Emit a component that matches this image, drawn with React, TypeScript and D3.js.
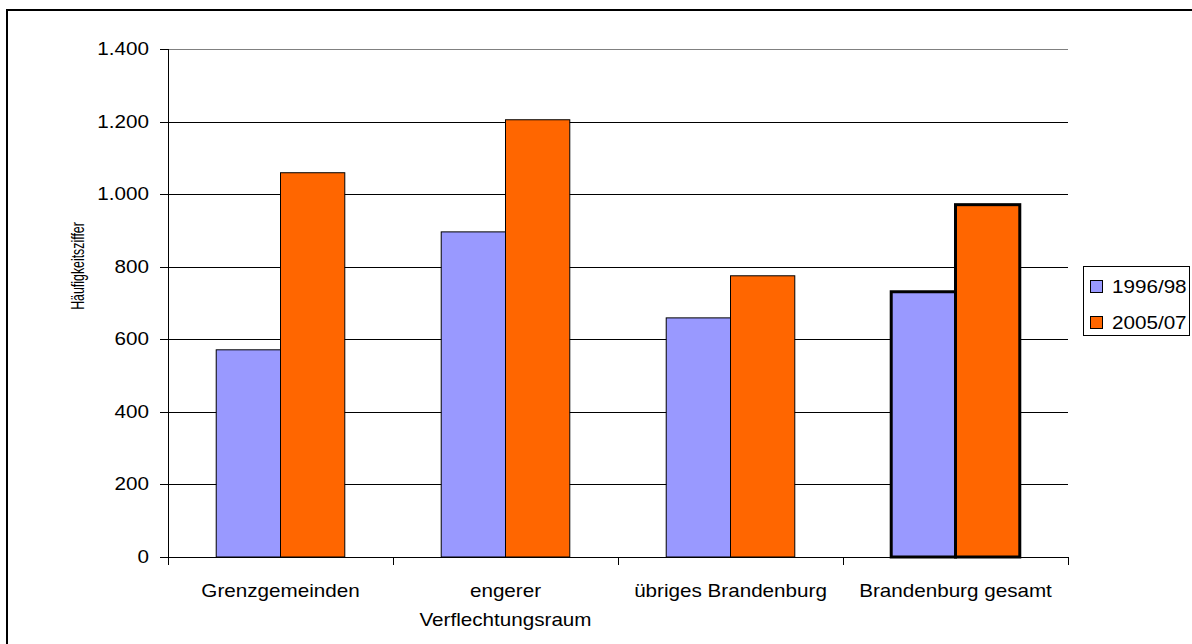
import React from "react";
import * as d3 from "d3";

const categories: string[][] = [
  ["Grenzgemeinden"],
  ["engerer", "Verflechtungsraum"],
  ["übriges Brandenburg"],
  ["Brandenburg gesamt"],
];
const seriesNames = ["1996/98", "2005/07"];
const values1996 = [571, 896, 659, 731];
const values2005 = [1059, 1205, 775, 971];
const yTicks = [0, 200, 400, 600, 800, 1000, 1200, 1400];
const highlighted = [false, false, false, true];
const colors = ["#9999FF", "#FF6600"];
const yTitle = "Häufigkeitsziffer";

const FONT = "'Liberation Sans', Arial, sans-serif";
const FS = 17.5;
const SX = 1.18;

const fmt = d3.formatLocale({ decimal: ",", thousands: ".", grouping: [3], currency: ["", "€"] }).format(",d");

export default function App() {
  const W = 1192, H = 644;
  const left = 168, right = 1068, top = 49, bottom = 557;
  const keys = categories.map((c) => c.join(" "));
  const x = d3.scaleBand<string>().domain(keys).range([left, right]).paddingInner(0).paddingOuter(0);
  const xs = d3.scaleBand<string>().domain(seriesNames).range([0, x.bandwidth()]).paddingInner(0).paddingOuter(0.75);
  const y = d3.scaleLinear().domain([0, 1400]).range([bottom, top]);
  const series = [values1996, values2005];

  const txt = (s: string, tx: number, ty: number, anchor: string, key?: any) => (
    <text key={key} transform={`translate(${tx},${ty}) scale(${SX},1)`} textAnchor={anchor as any} fontFamily={FONT} fontSize={FS} fill="#000">
      {s}
    </text>
  );

  return (
    <svg width={W} height={H} style={{ position: "absolute", left: 0, top: 0, background: "#fff" }}>
      <rect x={0} y={0} width={W} height={H} fill="#fff" />
      {/* outer chart border */}
      <rect x={7} y={10} width={1300} height={800} fill="none" stroke="#000" strokeWidth={2} />
      {/* gridlines */}
      {yTicks.map((t) => (
        <line key={t} x1={left} x2={right} y1={Math.round(y(t)) + 0.5} y2={Math.round(y(t)) + 0.5}
          stroke={t === 1400 ? "#808080" : "#000"} strokeWidth={1} />
      ))}
      {/* bars */}
      {keys.map((k, i) =>
        series.map((vals, s) => {
          const bx = (x(k) as number) + (xs(seriesNames[s]) as number);
          const by = y(vals[i]);
          return (
            <rect key={k + s} x={bx} y={by} width={xs.bandwidth()} height={bottom - by}
              fill={colors[s]} stroke="#000" strokeWidth={highlighted[i] ? 3 : 1} />
          );
        })
      )}
      {/* axes */}
      <line x1={left + 0.5} x2={left + 0.5} y1={top} y2={bottom + 8} stroke="#000" strokeWidth={1} />
      <line x1={left} x2={right} y1={bottom + 0.5} y2={bottom + 0.5} stroke="#000" strokeWidth={1} />
      {yTicks.map((t) => (
        <line key={"yt" + t} x1={160} x2={left} y1={Math.round(y(t)) + 0.5} y2={Math.round(y(t)) + 0.5} stroke="#000" />
      ))}
      {[...keys.map((k) => x(k) as number), right].map((px, i) => (
        <line key={"xt" + i} x1={Math.round(px) + 0.5} x2={Math.round(px) + 0.5} y1={bottom} y2={bottom + 8} stroke="#000" />
      ))}
      {yTicks.map((t) => txt(fmt(t), 149, y(t) + 6, "end", "yl" + t))}
      {categories.map((lines, i) => {
        const cx = (x(keys[i]) as number) + x.bandwidth() / 2;
        return lines.map((l, j) => txt(l, cx, 597 + j * 29, "middle", "xl" + i + j));
      })}
      {/* y title */}
      <text transform={`translate(84,266) rotate(-90) scale(0.65,1)`} textAnchor="middle" fontFamily={FONT} fontSize={19}
        fill="#000">{yTitle}</text>
      {/* legend */}
      <rect x={1083.5} y={266.5} width={106} height={69} fill="#fff" stroke="#000" strokeWidth={1} />
      {seriesNames.map((n, i) => (
        <g key={n}>
          <rect x={1090.5} y={280.5 + i * 36} width={12} height={12} fill={colors[i]} stroke="#000" strokeWidth={1} />
          {txt(n, 1112, 293 + i * 36, "start")}
        </g>
      ))}
    </svg>
  );
}
